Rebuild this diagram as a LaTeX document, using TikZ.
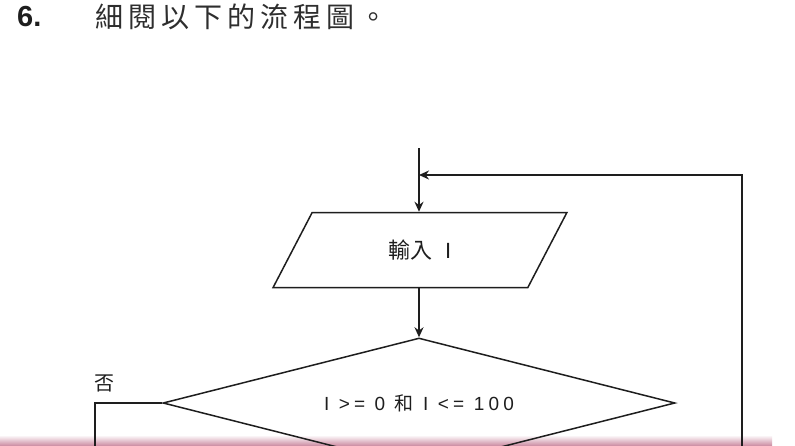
\documentclass[tikz,border=0pt]{standalone}
\usepackage{fontspec}
\setmainfont{Liberation Sans}
\newfontfamily\cjk{Noto Sans CJK TC}
\newfontfamily\cjkwide[LetterSpace=18]{Noto Sans CJK TC}
\newfontfamily\flowfont[LetterSpace=22]{Liberation Sans}
\usetikzlibrary{arrows.meta,shapes.geometric}
\definecolor{Ink}{HTML}{1E1E1E}
\definecolor{Muted}{HTML}{2E2E2E}
\definecolor{Band}{HTML}{CF93A8}
\tikzset{
  iobox/.style={draw=Ink,trapezium,trapezium left angle=61,trapezium right angle=119,trapezium stretches=true,minimum width=296pt,minimum height=75pt,inner sep=0pt,line width=1.5pt,font=\fontsize{22}{24}\selectfont,text=Ink},
  decisionbox/.style={draw=Ink,diamond,aspect=3.9,minimum width=512pt,minimum height=130pt,inner sep=0pt,line width=1.5pt,font=\flowfont\fontsize{19}{22}\selectfont,text=Ink},
  line/.style={-{Stealth[length=10pt,width=9pt]},draw=Ink,line width=1.5pt},
  plainline/.style={draw=Ink,line width=1.5pt}
}

\begin{document}
\begin{tikzpicture}[x=1pt,y=-1pt]
  \useasboundingbox (0,0) rectangle (795,445);
  \fill[white] (0,0) rectangle (795,445);
  \clip (0,0) rectangle (795,445);
  \shade[top color=white,bottom color=Band] (0,435) rectangle (772,445);

  % question line
  \node[anchor=west,font=\bfseries\fontsize{29}{30}\selectfont,text=Ink,inner sep=0pt] (qnum) at (17,17) {6.};
  \node[anchor=west,font=\cjkwide\fontsize{28}{30}\selectfont,text=Muted,inner sep=0pt] (qtext) at (95,17) {細閱以下的流程圖。};

  % flowchart
  \node[iobox] (input) at (420,250) {{\cjk 輸入}\ \ I};
  \node[decisionbox] (cond) at (419,403) {I >= 0 {\cjk 和} I <= 100};
  \node[font=\cjk\fontsize{20}{22}\selectfont,text=Ink] (nolabel) at (104,383) {否};

  \coordinate (start) at (419,148);
  \coordinate (join) at (419,175);
  \coordinate (loopin) at (742,450);
  \coordinate (noend) at (95,450);

  \draw[line] (start) -- (start |- input.north);
  \draw[line] (cond.north |- input.south) -- (cond.north);
  \draw[line] (loopin) |- (join);
  \draw[plainline] (cond.west) -| (noend);
\end{tikzpicture}
\end{document}
